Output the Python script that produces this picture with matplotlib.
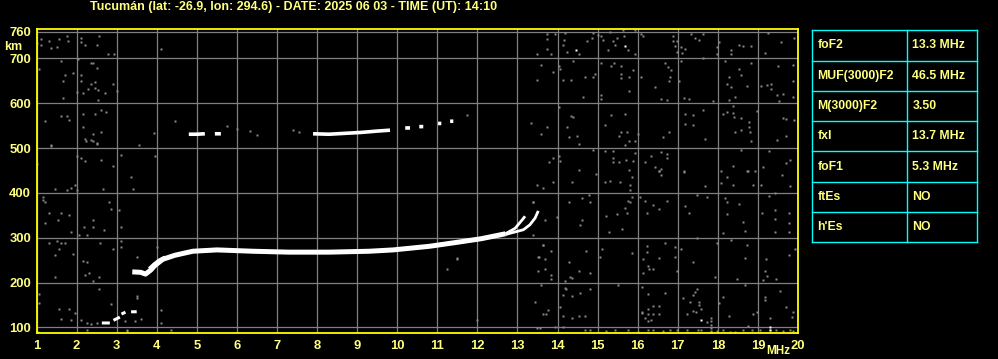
#!/usr/bin/env python
# -*- coding: utf-8 -*-

"""
Ionogram plot for Tucumán station (virtual height vs frequency).
"""

import numpy as np
import matplotlib
matplotlib.use("Agg")
import matplotlib.pyplot as plt

# ---- data -------------------------------------------------------------
freq_ticks = list(range(1, 21))
height_ticks = [100, 200, 300, 400, 500, 600, 700, 760]

# F-layer ordinary trace (thick part)
f2_main_f = [3.39, 3.6, 3.72, 3.85, 3.95, 4.15, 4.45, 4.9, 5.5, 6.4, 7.3, 8.3, 9.3, 9.9, 10.8, 11.5, 12.1, 12.7]
f2_main_h = [224, 223, 219, 228, 238, 252, 261, 270, 273, 270, 268, 268, 270, 273, 281, 290, 298, 309]

# cusps near critical frequencies (O and X)
f2_o_tail_f = [12.7, 12.94, 13.1, 13.19]
f2_o_tail_h = [309, 321, 338, 348]
f2_x_tail_f = [12.7, 12.81, 13.15, 13.31, 13.44, 13.52]
f2_x_tail_h = [307, 310, 318, 329, 344, 360]

# short X strand at the F1 ledge
f1_x_f = [3.8, 3.92, 4.05, 4.2]
f1_x_h = [232, 242, 251, 258]

# low E region echoes
e_trace_f = [2.63, 2.83, np.nan, 2.92, 3.08, np.nan, 3.12, 3.22, np.nan, 3.36, 3.5]
e_trace_h = [110, 110, np.nan, 116, 123, np.nan, 130, 134, np.nan, 135, 135]

# second hop echo
hop2_f = [4.8, 5.0, 5.2, np.nan, 5.45, 5.6, np.nan, 7.9, 8.3, 8.7, 9.1, 9.5, 9.82,
          np.nan, 10.2, 10.32, np.nan, 10.55, 10.65, np.nan, 11.02, 11.1, np.nan, 11.32, 11.4]
hop2_h = [531, 531, 532, np.nan, 532, 532, np.nan, 532, 531, 533, 535, 538, 540,
          np.nan, 545, 545, np.nan, 548, 548, np.nan, 555, 555, np.nan, 560, 560]

# grey noise, low frequency side
noise_left_f = [1.1, 1.1, 1.3, 1.35, 1.5, 1.57, 1.75, 1.79, 2.1, 2.1, 2.21, 2.5, 2.55, 2.79, 2.94,
                1.6, 1.07, 2.04, 1.9, 1.71, 1.65, 2.1, 2.1, 2.35, 2.4, 2.5, 2.35, 2.46, 2.46, 2.54,
                2.29, 2.15, 2.02, 2.71, 2.9, 3.0, 2.54, 1.65, 2.15, 2.6, 2.73, 2.46, 1.21, 1.6, 1.75,
                1.81, 2.15, 2.4, 2.21, 2.35, 2.5, 2.6, 1.35, 1.02,
                1.36, 2.23, 2.4, 2.51, 3.55, 3.11, 3.96, 2.0, 2.11, 2.22, 2.61, 2.9, 3.36, 3.4, 1.0,
                1.47, 1.86, 1.76, 1.97, 2.0, 2.65, 1.15, 1.17, 1.22, 1.3, 1.61, 1.8, 1.53, 1.22, 2.19,
                2.4, 2.42, 2.69, 2.82, 2.86, 3.05, 3.11, 1.86, 2.05, 2.25, 1.32, 1.5, 1.61, 1.72, 1.55,
                1.9, 1.47, 2.92, 3.11, 3.11, 2.58, 2.15, 2.25, 2.22, 2.3, 2.55, 2.4, 3.5, 4.0, 1.05,
                1.05, 1.47, 2.55, 2.86, 1.57, 1.8, 1.97, 1.86, 1.61, 2.11, 2.25, 2.36, 2.5, 3.5, 3.5,
                4.11, 4.11, 3.61, 3.47, 3.22, 3.25, 1.03, 2.25, 4.35, 3.25]
noise_left_h = [744, 731, 740, 723, 726, 743, 749, 739, 746, 737, 731, 731, 749, 709, 709,
                694, 676, 699, 667, 662, 649, 662, 649, 690, 690, 679, 642, 647, 635, 629,
                631, 622, 625, 622, 644, 627, 608, 612, 577, 586, 580, 575, 560, 571, 571,
                562, 547, 532, 520, 519, 511, 537, 505, 735,
                506, 515, 515, 510, 506, 485, 482, 483, 478, 471, 474, 461, 435, 409, 465,
                409, 411, 406, 418, 406, 409, 391, 385, 379, 356, 356, 351, 339, 334, 324,
                339, 324, 318, 379, 364, 361, 325, 312, 306, 306, 289, 292, 289, 289, 274,
                264, 262, 274, 292, 279, 289, 249, 245, 217, 222, 213, 204, 258, 279, 174,
                154, 213, 186, 152, 142, 142, 133, 116, 118, 116, 109, 107, 109, 170, 165,
                139, 109, 118, 114, 114, 92, 90, 94, 95, 94]

# grey noise, middle of the band
noise_mid_f = [4.1, 4.46, 3.93, 11.73, 7.4, 7.56, 5.75, 6.01, 6.33, 6.49, 11.23, 11.48, 11.98,
               13.38, 13.69, 13.63, 13.54, 11.48, 13.38]
noise_mid_h = [722, 560, 534, 573, 541, 536, 550, 543, 538, 529, 230, 253, 116,
               380, 340, 284, 258, 254, 306]

# grey noise, high frequency side
noise_right_f = [13.73, 13.73, 13.93, 13.48, 13.73, 13.83, 14.18, 14.17, 14.13, 14.23, 14.54, 14.73,
                 14.88, 14.85, 15.02, 15.08, 15.13, 15.31, 15.27, 15.38, 15.43, 15.48, 15.63, 15.67,
                 15.77, 15.94, 15.94, 16.08, 16.14, 16.88, 16.89, 16.93, 16.98, 17.08, 17.18, 16.98,
                 17.1, 17.33, 17.43, 17.52, 17.63, 18.02, 17.98, 17.98, 18.33, 18.33, 18.54, 18.64,
                 18.82, 19.24, 19.18, 19.58, 19.9,
                 13.58, 13.88, 14.03, 14.07, 13.48, 14.13, 14.34, 14.38, 14.63, 14.68, 14.88, 14.94,
                 15.08, 15.08, 15.08, 15.33, 15.4, 15.58, 15.58, 15.58, 15.78, 15.78, 15.88, 16.08,
                 16.43, 16.58, 16.68, 16.76, 16.82, 16.81, 16.77, 17.03, 16.73, 17.16, 17.27, 17.08,
                 17.63, 18.18, 18.28, 18.23, 18.33, 18.44, 18.27, 18.53, 18.58, 18.82, 18.73, 19.08,
                 19.23, 19.33, 19.33, 19.48, 19.52, 19.63, 19.49, 19.88, 19.88, 19.88, 17.88,
                 14.03, 13.33, 13.73, 13.58, 14.24, 14.34, 14.38, 14.29, 14.49, 14.53, 15.18, 15.33,
                 15.68, 15.58, 15.74, 15.54, 15.68, 15.78, 15.93, 16.02, 16.63, 16.78, 17.18, 17.37,
                 17.18, 17.37, 17.63, 17.68, 18.13, 18.24, 18.38, 18.38, 18.4, 18.58, 18.78, 18.78,
                 18.44, 18.58, 18.81, 18.83, 18.98, 19.48, 19.69, 19.89, 19.63, 19.69,
                 14.89, 15.18, 15.38, 15.38, 15.39, 15.53, 15.72, 15.88, 15.94, 16.18, 16.32, 16.58,
                 16.72, 16.72, 16.43, 16.58, 16.54, 17.16, 15.79, 14.54, 14.06, 13.79, 13.88, 14.03,
                 18.09, 18.58, 18.38, 18.74, 18.93, 19.27, 19.13, 19.69, 19.81,
                 13.48, 13.64, 13.89, 14.37, 14.97, 15.18, 15.32, 15.57, 15.82, 15.82, 15.87, 16.54,
                 16.57, 17.15, 17.67, 18.07, 18.23, 18.37, 18.72, 18.87, 19.07, 19.61, 19.81,
                 13.38, 13.98, 14.29, 14.62, 14.82, 14.57, 14.62, 14.79, 15.22, 15.29, 15.49, 15.62,
                 15.68, 15.74, 15.77, 15.82, 15.87, 16.07, 16.18, 16.22, 16.39, 16.54, 16.72, 17.18,
                 17.29, 17.47, 17.72, 18.18, 18.22, 18.23, 18.52, 18.62, 18.67, 18.12, 19.28, 19.11,
                 19.42, 19.42, 19.42, 19.78, 19.78, 19.78, 19.42,
                 13.63, 13.83, 13.52, 13.68, 13.68, 13.52, 13.83, 13.83, 14.18, 14.29, 14.32, 14.37,
                 14.54, 14.72, 14.82, 15.07, 15.12, 15.51, 15.87, 16.14, 16.22, 16.22, 16.29, 16.37,
                 16.26, 16.14, 16.54, 16.68, 16.93, 16.93, 16.97, 17.09, 17.37, 17.47, 17.93, 17.97,
                 18.32, 18.48, 18.67, 18.73, 19.21, 19.17, 19.23, 19.46, 19.78, 19.93, 19.13,
                 13.6, 14.18, 14.2, 14.13, 14.37, 14.57, 14.82, 13.43, 13.77, 13.64, 13.72, 14.07,
                 14.13, 14.37, 14.54, 14.68, 16.12, 16.26, 16.68, 16.37, 16.54, 16.26, 16.26, 16.12,
                 16.26, 16.32, 16.18, 16.1, 16.37, 16.54, 17.12, 17.37, 17.47, 17.43, 17.3, 17.53,
                 17.53, 17.57, 17.38, 17.45, 17.22, 17.72, 18.12, 18.03, 18.28, 18.67, 18.97, 18.87,
                 19.3, 19.17, 19.17, 19.56, 19.71, 19.88, 19.86]
noise_right_h = [754, 744, 754, 709, 722, 709, 757, 741, 731, 714, 709, 739,
                 757, 746, 752, 750, 741, 759, 719, 740, 730, 746, 763, 750,
                 719, 763, 711, 754, 750, 750, 739, 728, 740, 726, 722, 715,
                 713, 754, 746, 741, 754, 737, 725, 709, 719, 709, 731, 728,
                 728, 757, 713, 736, 746,
                 685, 669, 684, 677, 653, 653, 653, 694, 613, 658, 658, 666,
                 689, 618, 609, 684, 689, 684, 666, 657, 658, 627, 675, 658,
                 636, 609, 689, 681, 675, 659, 649, 649, 608, 612, 609, 694,
                 700, 694, 658, 644, 636, 614, 608, 677, 663, 689, 638, 638,
                 640, 644, 631, 618, 606, 621, 684, 685, 649, 613, 605,
                 591, 555, 546, 531, 546, 571, 569, 524, 528, 510, 551, 573,
                 577, 537, 537, 528, 506, 515, 515, 532, 524, 537, 577, 573,
                 554, 551, 586, 521, 577, 581, 593, 578, 570, 567, 558, 548,
                 537, 541, 537, 515, 582, 519, 565, 563, 568, 528,
                 496, 493, 493, 479, 470, 470, 474, 472, 489, 470, 483, 491,
                 488, 479, 457, 454, 448, 448, 452, 452, 472, 470, 478, 483,
                 449, 496, 461, 449, 448, 494, 457, 467, 474,
                 418, 411, 424, 424, 443, 424, 426, 424, 418, 407, 436, 448,
                 439, 446, 416, 422, 436, 418, 448, 418, 418, 439, 415,
                 379, 346, 379, 389, 379, 329, 339, 396, 348, 312, 353, 320,
                 366, 356, 383, 379, 392, 392, 383, 356, 374, 364, 383, 370,
                 356, 396, 392, 389, 379, 353, 375, 336, 316, 310, 393, 356,
                 361, 342, 314, 356, 334, 312, 400,
                 284, 271, 258, 253, 230, 227, 217, 208, 204, 245, 213, 210,
                 227, 271, 222, 258, 275, 195, 267, 253, 282, 269, 230, 230,
                 236, 222, 256, 289, 280, 258, 227, 275, 245, 299, 213, 289,
                 294, 207, 256, 284, 253, 226, 215, 208, 262, 275, 206,
                 195, 189, 185, 172, 170, 177, 186, 157, 139, 130, 130, 145,
                 125, 122, 126, 126, 191, 174, 177, 148, 148, 142, 130, 135,
                 115, 116, 122, 133, 131, 130, 165, 172, 186, 178, 157, 157,
                 150, 142, 137, 135, 130, 112, 169, 155, 125, 195, 135, 130,
                 122, 167, 162, 182, 145, 135, 124]

# grey noise along the lowest heights
noise_floor_f = [13.48, 13.56, 13.93, 14.13, 14.68, 14.82, 15.22, 15.43, 15.76, 16.01, 16.26, 16.39,
                 16.64, 16.8, 16.97, 17.22, 17.51, 17.59, 17.84, 17.98, 18.13, 18.3, 18.42, 18.63,
                 18.76, 18.84, 19.05, 19.3, 19.46, 19.63, 19.8, 19.88,
                 17.82, 17.82, 17.82, 17.82, 17.82]
noise_floor_h = [98, 98, 101, 101, 95, 95, 92, 94, 95, 90, 95, 94,
                 92, 95, 94, 95, 94, 95, 92, 92, 95, 90, 90, 94,
                 103, 95, 95, 95, 95, 92, 94, 92,
                 90, 98, 106, 114, 121]

# isolated bright pixels
white_f = [14.47, 15.68, 17.57, 19.31, 19.31]
white_h = [718, 728, 116, 101, 95]

# parameter table
param_names = ["foF2", "MUF(3000)F2", "M(3000)F2", "fxI", "foF1", "ftEs", "h'Es"]
param_values = ["13.3 MHz", "46.5 MHz", "3.50", "13.7 MHz", "5.3 MHz", "NO", "NO"]

TITLE = "Tucumán (lat: -26.9, lon: 294.6) - DATE: 2025 06 03 - TIME (UT): 14:10"

# ---- style ------------------------------------------------------------
TXT = "#ffff80"
FRAME = "#ffff00"
GRID = "#808080"
NOISE = "#8a8a8a"
CYAN = "#00ffff"
FONT = "Liberation Sans"

W, H = 998, 359
fig = plt.figure(figsize=(W / 100, H / 100), dpi=100, facecolor="black")

ax = fig.add_axes([36.5 / W, (H - 333.3) / H, (798 - 36.5) / W, (333.3 - 29.3) / H])
ax.set_facecolor("black")
ax.set_xlim(1, 20)
ax.set_ylim(87, 765)

ax.set_xticks(freq_ticks)
ax.set_yticks(height_ticks)
ax.set_xticklabels([str(f) for f in freq_ticks], fontfamily=FONT, fontweight="bold")
ax.set_yticklabels([str(h) for h in height_ticks], fontfamily=FONT, fontweight="bold")
ax.tick_params(length=0, labelcolor=TXT, labelsize=9.4)
ax.tick_params(axis="x", pad=5)
ax.tick_params(axis="y", pad=4)
ax.grid(True, color=GRID, lw=0.9)
ax.set_axisbelow(True)
for s in ax.spines.values():
    s.set_color(FRAME)
    s.set_linewidth(1.3)

# noise
mk = dict(ls="none", marker="s", ms=1.9, mec="none", mfc=NOISE, zorder=2)
ax.plot(noise_left_f, noise_left_h, **mk)
ax.plot(noise_mid_f, noise_mid_h, **mk)
ax.plot(noise_right_f, noise_right_h, **mk)
ax.plot(noise_floor_f, noise_floor_h, **mk)
ax.plot(white_f, white_h, ls="none", marker="s", ms=1.9, mec="none", mfc="white", zorder=3)

# traces
ax.plot(f2_main_f, f2_main_h, color="white", lw=3.6, solid_capstyle="butt", zorder=4)
ax.plot(f2_o_tail_f, f2_o_tail_h, color="white", lw=2.0, solid_capstyle="butt", zorder=4)
ax.plot(f2_x_tail_f, f2_x_tail_h, color="white", lw=2.0, solid_capstyle="butt", zorder=4)
ax.plot(f1_x_f, f1_x_h, color="white", lw=1.6, solid_capstyle="butt", zorder=4)
ax.plot(e_trace_f, e_trace_h, color="white", lw=2.2, solid_capstyle="butt", zorder=4)
ax.plot(hop2_f, hop2_h, color="white", lw=2.6, solid_capstyle="butt", zorder=4)

# labels
fig.text(294 / W, 1 - 6.7 / H, TITLE, color=TXT, fontsize=9, fontweight="bold",
         fontfamily=FONT, ha="center", va="center")
fig.text(13.5 / W, 1 - 46.5 / H, "km", color=TXT, fontsize=9, fontweight="bold",
         fontfamily=FONT, ha="center", va="center")
fig.text(766.5 / W, 1 - 351.5 / H, "MHz", color=TXT, fontsize=8.5, fontweight="bold",
         fontfamily=FONT, ha="left", va="center")

# parameter table
tx = fig.add_axes([812.3 / W, (H - 242.3) / H, (977.3 - 812.3) / W, (242.3 - 30.3) / H])
tx.set_xlim(0, 1)
tx.set_ylim(len(param_names), 0)
tx.axis("off")
split = (907.3 - 812.3) / (977.3 - 812.3)
for i in range(len(param_names) + 1):
    tx.plot([0, 1], [i, i], color=CYAN, lw=1.0, clip_on=False)
for xv in [0, split, 1]:
    tx.plot([xv, xv], [0, len(param_names)], color=CYAN, lw=1.0, clip_on=False)
for i, (name, val) in enumerate(zip(param_names, param_values)):
    tx.text(0.03, i + 0.5, name, color=TXT, fontsize=8.8, fontweight="bold",
            fontfamily=FONT, ha="left", va="center")
    tx.text(split + 0.03, i + 0.5, val, color=TXT, fontsize=8.8, fontweight="bold",
            fontfamily=FONT, ha="left", va="center")

fig.savefig("out.png", dpi=100, facecolor="black")
